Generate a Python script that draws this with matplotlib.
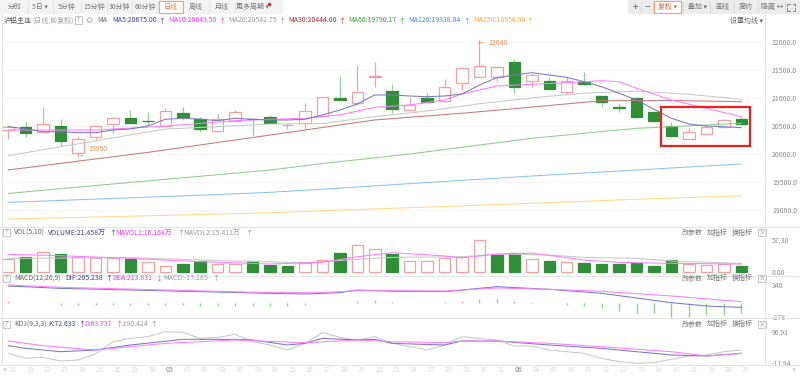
import matplotlib
matplotlib.use('Agg')
import matplotlib.pyplot as plt
from matplotlib.patches import Rectangle
from matplotlib.lines import Line2D
import matplotlib.transforms as mtrans
import numpy as np

# ---------------- data ----------------
day_labels = ["18", "19", "22", "23", "24", "25", "26", "29", "30",
              "05", "07", "08", "09", "10", "13", "14", "15", "16", "17", "20",
              "21", "22", "23", "24", "27", "28", "29", "30", "31",
              "06", "04", "05", "06", "07", "11", "12", "13", "14",
              "17", "18", "19", "20", "21"]
month_marks = {"05": 9, "06": 29}

opens = [20430, 20485, 20400, 20510, 20025, 20300, 20540, 20640, 20600, 20500,
         20740, 20620, 20420, 20600, 20625, 20660, 20515, 20560, 20680, 21000,
         20920, 21380, 21130, 20790, 21000, 20945, 21265, 21375, 21385, 21640,
         21310, 21305, 21105, 21295, 21045, 20840, 21000, 20745, 20505, 20270,
         20355, 20490, 20620]
highs = [20500, 20580, 20850, 20620, 20320, 20505, 20660, 20790, 20760, 20820,
         20850, 20665, 20710, 20790, 20640, 20700, 20560, 20920, 21020, 21400,
         21595, 21640, 21250, 21000, 21105, 21340, 21550, 22040, 21575, 21700,
         21455, 21385, 21385, 21475, 21045, 20920, 21000, 20760, 20580, 20490,
         20530, 20620, 20660]
lows = [20265, 20300, 20400, 20145, 19950, 20265, 20380, 20555, 20520, 20495,
        20610, 20400, 20400, 20580, 20340, 20555, 20445, 20445, 20680, 20960,
        20880, 21195, 20730, 20790, 20920, 20940, 21145, 21375, 21305, 21100,
        21205, 21160, 21070, 21235, 20845, 20760, 20640, 20565, 20300, 20270,
        20355, 20490, 20520]
closes = [20480, 20375, 20540, 20235, 20265, 20500, 20640, 20560, 20595, 20770,
          20660, 20445, 20620, 20745, 20620, 20560, 20525, 20775, 21015, 20965,
          21115, 21390, 20805, 20870, 20935, 21205, 21535, 21580, 21550, 21205,
          21415, 21165, 21305, 21255, 20935, 20830, 20670, 20590, 20330, 20400,
          20490, 20610, 20535]

ma5 = [20490, 20450, 20400, 20400, 20382, 20382, 20430, 20450, 20502, 20622,
       20640, 20625, 20597, 20640, 20622, 20609, 20609, 20622, 20699, 20788,
       20896, 21057, 21057, 21039, 21026, 21039, 21075, 21236, 21367, 21415,
       21456, 21415, 21373, 21295, 21205, 21087, 20967, 20801, 20640, 20538,
       20502, 20490, 20472]
ma10_idx = [0, 2, 5, 9, 13, 15, 17, 19, 21, 23, 25, 26, 28, 30, 32, 34, 35, 36, 38, 40, 42]
ma10_val = [20430, 20430, 20430, 20500, 20597, 20622, 20640, 20700, 20836, 20878,
            20967, 21075, 21218, 21248, 21277, 21313, 21295, 21177, 20967, 20819, 20668]
ma20_idx = [0, 3, 6, 9, 12, 15, 18, 21, 24, 27, 30, 33, 36, 39, 42]
ma20_val = [19970, 20131, 20290, 20448, 20490, 20538, 20545, 20670, 20770, 20900,
            21005, 21090, 21125, 21070, 20980]
ma30_idx = [0, 8, 15, 21, 26, 30, 34, 38, 42]
ma30_val = [19715, 20030, 20340, 20610, 20730, 20840, 20955, 20958, 20937]
ma60_idx = [0, 6, 12, 15, 18, 23, 30, 36, 42]
ma60_val = [19295, 19464, 19630, 19714, 19830, 20000, 20282, 20460, 20550]
ma120_idx = [0, 6, 12, 15, 18, 24, 30, 36, 42]
ma120_val = [19135, 19205, 19275, 19315, 19370, 19490, 19607, 19714, 19822]
ma250_idx = [0, 6, 12, 15, 18, 24, 30, 36, 42]
ma250_val = [18837, 18880, 18925, 18950, 18985, 19050, 19118, 19190, 19254]

volumes = [23.0, 27.1, 36.2, 31.3, 27.1, 24.1, 24.1, 22.3, 18.1, 10.9,
           13.9, 19.4, 13.2, 13.2, 19.9, 12.1, 10.9, 15.0, 21.2, 33.1,
           48.3, 41.1, 31.3, 19.9, 19.9, 24.1, 25.9, 57.3, 30.2, 33.1,
           23.0, 19.9, 16.8, 15.0, 13.9, 13.9, 15.0, 10.3, 21.2, 13.9,
           12.1, 13.2, 10.3]
mavol1_idx = [0, 3, 7, 11, 15, 18, 20, 22, 25, 26, 28, 30, 33, 35, 38, 42]
mavol1_val = [31.4, 28.9, 24.1, 18.1, 13.9, 16.9, 27.1, 34.4, 28.5, 25.0, 31.8,
              33.5, 21.1, 16.9, 15.1, 13.9]
mavol2_idx = [0, 7, 13, 17, 20, 22, 26, 28, 31, 33, 36, 38, 42]
mavol2_val = [24.1, 25.3, 19.3, 16.3, 22.3, 25.9, 27.1, 32.0, 30.2, 25.9, 24.1, 19.3, 15.1]

dif_idx = [0, 3, 7, 11, 15, 17, 19, 20, 22, 25, 28, 31, 34, 38, 40, 42]
dif_val = [321, 276, 245, 213, 181, 168, 194, 245, 222, 213, 308, 257, 181, 3, -61, -87]
dea_idx = [0, 3, 9, 15, 18, 20, 22, 25, 28, 31, 34, 38, 42]
dea_val = [340, 296, 245, 194, 194, 232, 232, 225, 283, 257, 220, 130, 22]
macd_bar = [41, 3, 5, -45, -50, -50, -45, -40, -35, -45, -50, -55, -55, -55, -55,
            -60, -60, -50, -10, 3, 35, 60, 10, 5, 5, 20, 41, 73, 85, 41, 22, 3,
            -42, -61, -106, -150, -189, -201, -265, -278, -233, -233, -201]

k_idx = [0, 1, 3, 5, 7, 10, 13, 14, 16, 17, 18, 20, 21, 22, 25, 26, 28, 31, 34, 38, 40, 42]
k_val = [48.8, 39.6, 28.1, 33.9, 51.1, 70.6, 70.6, 68.3, 51.1, 56.8, 74.0, 68.3,
         70.6, 56.8, 51.1, 64.8, 64.8, 51.1, 39.6, 16.7, 13.3, 22.4]
d_idx = [0, 2, 5, 9, 13, 17, 20, 22, 25, 26, 28, 31, 34, 38, 40, 42]
d_val = [64.8, 48.8, 33.9, 56.8, 68.3, 59.1, 68.3, 62.5, 59.1, 64.8, 64.8, 56.8,
         45.3, 28.1, 13.3, 22.4]
j_val = [22.4, 5.3, 8.7, -4.0, -0.5, 20.1, 62.5, 74.0, 79.7, 96.9, 94.6, 74.0,
         77.4, 87.7, 62.5, 51.1, 33.9, 56.8, 93.5, 77.4, 68.3, 79.7, 56.8, 45.3,
         33.9, 51.1, 79.7, 74.0, 68.3, 47.6, 47.6, 33.9, 28.1, 22.4, 5.3, -6.2,
         -11.9, -9.7, 1.8, 13.3, 16.7, 28.1, 33.9]

price_ticks = [19000, 19500, 20000, 20500, 21000, 21500, 22000]

# ---------------- styling ----------------
plt.rcParams['font.family'] = ['Noto Sans CJK SC', 'DejaVu Sans']
W, H = 800, 378
RED = '#f2a0a0'
GRN = '#2f8f37'
GRN_W = '#93cf93'
C_MA5 = '#7878c6'
C_MA10 = '#ff7cff'
C_GRAY = '#c8c8c8'
ORANGE = '#f0905a'
LW = 0.75

fig = plt.figure(figsize=(8, 3.78), dpi=100)
fig.patch.set_facecolor('white')


def fx(x):
    return x / W


def fy(y):
    return 1 - y / H


def rect(x0, y0, x1, y1):
    return [fx(x0), fy(y1), (x1 - x0) / W, (y1 - y0) / H]


def T(x, y, s, c='#666666', size=5, ha='left', **kw):
    fig.text(fx(x), fy(y), s, color=c, fontsize=size, ha=ha, va='center', **kw)


def hline(y, x0=0, x1=W, c='#e4e4e4', lw=0.8):
    fig.add_artist(Line2D([fx(x0), fx(x1)], [fy(y), fy(y)], color=c, lw=lw))


def vline(x, y0, y1, c='#e4e4e4', lw=0.8):
    fig.add_artist(Line2D([fx(x), fx(x)], [fy(y0), fy(y1)], color=c, lw=lw))


def box(x0, y0, x1, y1, fc='none', ec='#cccccc', lw=0.6):
    fig.add_artist(Rectangle((fx(x0), fy(y1)), (x1 - x0) / W, (y1 - y0) / H,
                             transform=fig.transFigure, fc=fc, ec=ec, lw=lw))


XL = (-0.30, 43.36)


def setup(ax, ylim):
    ax.set_xlim(XL)
    ax.set_ylim(ylim)
    for s in ax.spines.values():
        s.set_visible(False)
    ax.set_xticks([])
    ax.yaxis.tick_right()
    ax.tick_params(axis='y', length=0, pad=5, labelsize=5, labelcolor='#8a8a8a')
    ax.patch.set_alpha(0)


x = np.arange(len(opens))
o = np.array(opens, float)
c = np.array(closes, float)
hi = np.array(highs, float)
lo = np.array(lows, float)
up = c >= o

# ---------------- main price panel ----------------
ax = fig.add_axes(rect(3, 28, 765, 226))
setup(ax, (18712, 22256))
ax.set_yticks(price_ticks)
ax.set_yticklabels([f'{t:.1f}' for t in price_ticks])
for t in price_ticks:
    ax.axhline(t, color='#f4f4f4', lw=0.6, zorder=0)

ax.vlines(x[up], lo[up], hi[up], color=RED, lw=0.9, zorder=2)
ax.vlines(x[~up], lo[~up], hi[~up], color=GRN_W, lw=0.9, zorder=2)
bot = np.minimum(o, c)
hgt = np.abs(c - o)
ax.bar(x[up], hgt[up], bottom=bot[up], width=0.66, facecolor='white',
       edgecolor=RED, lw=0.9, zorder=3)
ax.bar(x[~up], hgt[~up], bottom=bot[~up], width=0.66, facecolor=GRN,
       edgecolor=GRN, lw=0.9, zorder=3)

ax.plot(ma250_idx, ma250_val, color='#ffd88c', lw=LW, zorder=4)
ax.plot(ma120_idx, ma120_val, color='#8cc2f0', lw=LW, zorder=4)
ax.plot(ma60_idx, ma60_val, color='#8fcc8f', lw=LW, zorder=4)
ax.plot(ma30_idx, ma30_val, color='#c87878', lw=LW, zorder=4)
ax.plot(ma20_idx, ma20_val, color=C_GRAY, lw=LW, zorder=4)
ax.plot(ma10_idx, ma10_val, color=C_MA10, lw=LW, zorder=4)
ax.plot(x, ma5, color=C_MA5, lw=LW, zorder=4)

imax = int(np.argmax(hi))
imin = int(np.argmin(lo))
ax.annotate(f'{hi[imax]:.0f}', xy=(imax, hi[imax]), xytext=(imax + 0.55, hi[imax] - 50),
            color=ORANGE, fontsize=5, va='center', ha='left',
            arrowprops=dict(arrowstyle='-', color=ORANGE, lw=0.6,
                            connectionstyle='angle,angleA=0,angleB=70,rad=0'))
ax.annotate(f'{lo[imin]:.0f}', xy=(imin, lo[imin]), xytext=(imin + 0.58, lo[imin] + 135),
            color=ORANGE, fontsize=5, va='center', ha='left',
            arrowprops=dict(arrowstyle='-', color=ORANGE, lw=0.6))

ax.add_patch(Rectangle((37.4, 20144), 5.1, 703, fill=False, ec='#e8231b', lw=1.6, zorder=6))

# ---------------- volume panel ----------------
axv = fig.add_axes(rect(3, 227, 765, 275))
setup(axv, (-6.0, 80.9))
vmax = max(volumes)
axv.set_yticks([0, vmax])
axv.set_yticklabels(['0.00', f'{vmax:.2f}'])
vol = np.array(volumes)
prev = np.concatenate([[o[0]], c[:-1]])
vup = c >= prev
axv.bar(x[vup], vol[vup], width=0.66, facecolor='white', edgecolor=RED, lw=0.9, zorder=3)
axv.bar(x[~vup], vol[~vup], width=0.66, facecolor=GRN, edgecolor=GRN, lw=0.9, zorder=3)
axv.plot(mavol2_idx, mavol2_val, color=C_GRAY, lw=LW, zorder=4)
axv.plot(mavol1_idx, mavol1_val, color=C_MA10, lw=LW, zorder=4)

# ---------------- MACD panel ----------------
axm = fig.add_axes(rect(3, 276, 765, 318))
setup(axm, (-290, 512))
axm.set_yticks([-278, 340])
axm.set_yticklabels(['-278', '340'])
mb = np.array(macd_bar, float)
axm.vlines(x, 0, mb, colors=[RED if v >= 0 else GRN_W for v in mb], lw=1.0, zorder=3)
axm.plot(dif_idx, dif_val, color=C_MA5, lw=LW, zorder=4)
axm.plot(dea_idx, dea_val, color=C_MA10, lw=LW, zorder=4)

# ---------------- KDJ panel ----------------
axk = fig.add_axes(rect(3, 318, 765, 364))
setup(axk, (-14.2, 144.0))
axk.set_yticks([-11.94, 96.91])
axk.set_yticklabels(['-11.94', '96.91'])
axk.plot(x, j_val, color=C_GRAY, lw=LW, zorder=3)
axk.plot(k_idx, k_val, color=C_MA5, lw=LW, zorder=4)
axk.plot(d_idx, d_val, color=C_MA10, lw=LW, zorder=4)

# x-axis date labels
tr = mtrans.blended_transform_factory(axk.transData, fig.transFigure)
mark_pos = set(month_marks.values())
for i, lab in enumerate(day_labels):
    col = '#8a8a8a' if i in mark_pos else '#dcdcdc'
    fig.text(i + 0.25, fy(370.5), lab, transform=tr, fontsize=5, color=col,
             ha='center', va='center')
T(5, 369.5, '«', c='#aaaaaa', size=6, ha='center')
T(793, 369.5, '»', c='#aaaaaa', size=6, ha='center')

# ---------------- frame lines ----------------
vline(765, 14, 365)
vline(1.5, 14, 365)
for yy in (226.5, 275.5, 317.5, 364.5):
    hline(yy)

# ---------------- toolbar ----------------
box(0, 0, 283, 14, fc='#f3f3f3', ec='none')
box(628, 0, 800, 14, fc='#ececec', ec='none')
for sx in (28, 53, 81, 107, 132, 157, 209, 235):
    vline(sx, 2, 12, c='#dddddd', lw=0.6)
box(159, 1, 183, 13, fc='white', ec='#f4a06a', lw=0.8)
tabs = [('分时', 15), ('5日 ▾', 40), ('5分钟', 67), ('15分钟', 94), ('30分钟', 120),
        ('60分钟', 145), ('周线', 196), ('月线', 222), ('更多周期 ▾', 253)]
for s, px in tabs:
    T(px, 7, s, c='#777777', ha='center')
T(171, 7, '日线', c='#f07a3a', ha='center')
fig.add_artist(Line2D([fx(269)], [fy(4)], marker='o', ms=1.6, color='#ff2020', lw=0))

for sx in (641, 653, 683, 710, 734, 758, 785):
    vline(sx, 2, 12, c='#d6d6d6', lw=0.6)
T(635, 7, '+', c='#666666', size=7, ha='center')
T(647, 7, '−', c='#666666', size=7, ha='center')
box(654, 1, 681, 13, fc='white', ec='#f4a06a', lw=0.8)
T(667.5, 7, '复权 ▾', c='#e8602a', ha='center')
T(697, 7, '叠加 ▾', c='#777777', ha='center')
T(722, 7, '画线', c='#777777', ha='center')
T(746, 7, '简约', c='#777777', ha='center')
T(772, 7, '隐藏 ↔', c='#777777', ha='center')
# full-screen icon
for (ax0, ay0, dx, dy) in ((787, 3.5, 1, 1), (795, 3.5, -1, 1), (787, 10.5, 1, -1), (795, 10.5, -1, -1)):
    fig.add_artist(Line2D([fx(ax0), fx(ax0), fx(ax0 + 2.5 * dx)],
                          [fy(ay0 + 2.5 * dy), fy(ay0), fy(ay0)], color='#777777', lw=0.6))

# ---------------- main header ----------------
Y = 20.5
T(4, Y, '沪铝主连', c='#555555')
T(32, Y, '(日线,前复权)', c='#9a9a9a')
box(75, 16.5, 82, 24, ec='#bbbbbb')
T(78.5, Y, '?', c='#999999', size=4.5, ha='center')
T(89, Y, '⚙', c='#aaaaaa', size=6, ha='center')
T(97, Y, 'MA', c='#666666')
hdr = [(112, 'MA5:20675.00', '#3d3da3', 162, '↑'),
       (168, 'MA10:20649.50', '#ff33ff', 222, '↑'),
       (228, 'MA20:20542.75', '#9a9a9a', 282, '↑'),
       (288, 'MA30:20444.00', '#b02a2a', 342, '↑'),
       (348, 'MA60:19790.17', '#2f9f2f', 402, '↑'),
       (408, 'MA120:19338.04', '#3a8fd8', 467, '↑'),
       (473, 'MA250:18956.98', '#ffa630', 530, '↑')]
for px, s, col, ax_, arr in hdr:
    T(px, Y, s, c=col)
    T(ax_, Y, arr, c=col, ha='center')
T(730, Y, '设置均线 ▾', c='#666666')


# ---------------- sub-panel headers ----------------
def subheader(yc, items):
    box(3, yc - 3.5, 9.5, yc + 3.5, ec='#bbbbbb')
    T(6.2, yc, '?', c='#999999', size=4.5, ha='center')
    for px, s, col in items:
        T(px, yc, s, c=col)
    T(682, yc, '改参数', c='#777777')
    T(707, yc, '加指标', c='#777777')
    T(732, yc, '换指标', c='#777777')
    box(758, yc - 3.8, 766, yc + 3.8, ec='#bbbbbb')
    T(762, yc, '×', c='#999999', size=5, ha='center')


subheader(232.5, [(14, 'VOL(5,10)', '#666666'), (48, 'VOLUME:21.458万', '#3d3da3'),
                  (109, '↑', '#3d3da3'), (115, 'MAVOL1:16.168万', '#ff33ff'),
                  (177, '↑', '#ff33ff'), (183, 'MAVOL2:15.411万', '#9a9a9a'),
                  (245, '↑', '#9a9a9a')])
subheader(278.3, [(14, 'MACD(12,26,9)', '#666666'), (65, 'DIF:205.238', '#3d3da3'),
                  (105, '↑', '#3d3da3'), (112, 'DEA:213.831', '#ff33ff'),
                  (155, '↓', '#ff33ff'), (163, 'MACD:-17.185', '#9a9a9a'),
                  (212, '↑', '#9a9a9a')])
subheader(324.3, [(14, 'KDJ(9,3,3)', '#666666'), (48, 'K:72.633', '#3d3da3'),
                  (78, '↑', '#3d3da3'), (84, 'D:63.737', '#ff33ff'),
                  (115, '↑', '#ff33ff'), (122, 'J:90.424', '#9a9a9a'),
                  (150, '↑', '#9a9a9a')])

fig.savefig('out.png', dpi=100, facecolor='white')
